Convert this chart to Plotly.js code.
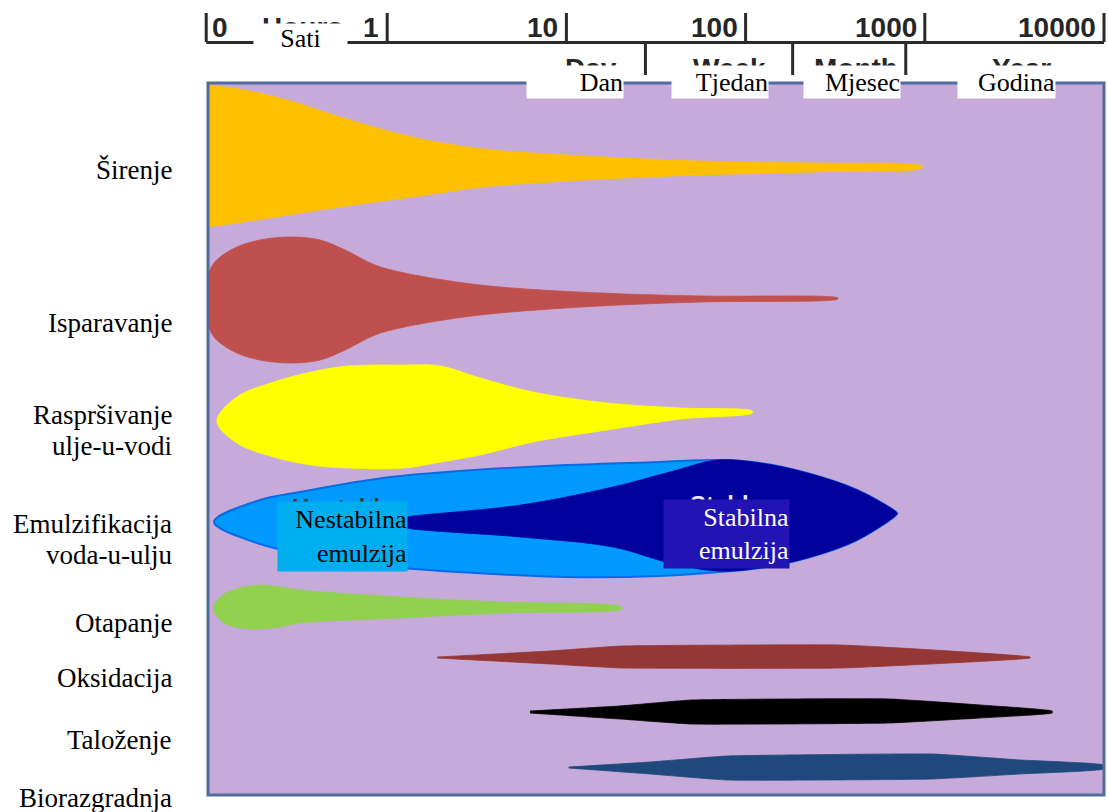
<!DOCTYPE html>
<html><head><meta charset="utf-8">
<script src="https://cdn.plot.ly/plotly-3.0.1.min.js"></script>
<style>html,body{margin:0;padding:0;background:#fff}#chart{width:1108px;height:812px}</style>
</head><body><div id="chart"></div>
<script>
// ---- time axis (hours, log scale) ----
const decadeHours = [0.1, 1, 10, 100, 1000, 10000];
const decadeLabels = ['0', '1', '10', '100', '1000', '10000'];
const periodBoundsHours = [27.6, 183, 783];
const periodNames = ['Sati', 'Dan', 'Tjedan', 'Mjesec', 'Godina'];
const periodLabelHours = [0.33, 11.2, 72, 393, 2840];
const periodNamesEn = ['Hours', 'Day', 'Week', 'Month', 'Year'];
const periodLabelEnHours = [0.335, 13.7, 81.8, 413, 3480];

// ---- process names and label positions (lane units, 0 = top of panel) ----
const processLabels = ['Širenje', 'Isparavanje', 'Raspršivanje<br>ulje-u-vodi', 'Emulzifikacija<br>voda-u-ulju', 'Otapanje', 'Oksidacija', 'Taloženje', 'Biorazgradnja'];
const processLabelLane = [87, 240, 347.5, 456.5, 540, 595, 657, 715];

// ---- band outlines: hours, upper edge, lower edge (lane units) ----
const spreadHours = [0.1, 0.172, 0.302, 0.545, 1.375, 3.43, 8.09, 20.9, 55.7, 238, 964];
const spreadUpper = [2, 8, 19, 34, 54, 66, 71, 75, 78, 80, 83];
const spreadLower = [144, 138, 131, 124, 114, 104, 99, 95, 92, 89, 85];

const evapHours = [0.1, 0.109, 0.141, 0.195, 0.294, 0.422, 0.582, 0.855, 1.18, 2.24, 4.26, 15.4, 55.7, 328];
const evapUpper = [192, 179, 165, 157, 154, 157, 167, 182, 189, 198, 204, 210, 213, 215];
const evapLower = [242, 255, 269, 277, 280, 277, 267, 252, 245, 236, 230, 223, 219, 216];

const dispHours = [0.112, 0.145, 0.233, 0.376, 0.604, 1.24, 1.99, 3.30, 6.52, 16.9, 43.6, 109];
const dispUpper = [338, 314, 299, 289, 283, 282, 283, 295, 309, 320, 325, 328];
const dispLower = [338, 360, 374, 382, 385, 385, 379, 372, 359, 347, 336, 330];

const emulHours = [0.108, 0.195, 0.326, 0.948, 3.09, 10.1, 32.9, 70.2, 120, 220, 419, 700];
const emulUpper = [439, 417, 409, 395, 387, 382, 379, 377, 380, 390, 407, 430];
const emulLower = [439, 461, 470, 483, 490, 494, 493, 489, 485, 475, 457, 431];

const stableHours = [0.912, 1.27, 5.58, 18.2, 37.8, 70.2, 120, 220, 419, 700];
const stableUpper = [439, 434, 422, 404, 389, 377, 380, 390, 407, 430];
const stableLower = [439, 445, 454, 464, 480, 488, 485, 475, 457, 431];

const dissHours = [0.107, 0.121, 0.151, 0.195, 0.252, 0.326, 1.18, 4.26, 20.4];
const dissUpper = [525, 512, 505, 502, 504, 507, 514, 519, 524];
const dissLower = [525, 539, 545, 546, 544, 540, 535, 530, 526];

const oxHours = [1.90, 8.09, 20.4, 340, 1383, 3870];
const oxUpper = [574, 568, 563, 562, 568, 574];
const oxLower = [575, 581, 585, 585, 580, 575];

const sedHours = [6.27, 19.9, 50.2, 631, 2030, 5130];
const sedUpper = [628, 623, 617, 616, 622, 628];
const sedLower = [630, 636, 641, 640, 635, 630];

const bioHours = [10.3, 29.3, 78.7, 1112, 3400, 10000];
const bioUpper = [684, 679, 673, 671, 677, 682];
const bioLower = [685, 691, 697, 696, 691, 686];

// ---- helpers ----
const XR = [-1, 4.0];
const LANES = 712;
const paperX = h => (Math.log10(h) - XR[0]) / (XR[1] - XR[0]);
const paperY = lane => 1 - lane / LANES;
const SERIF = '"Liberation Serif", "Times New Roman", "DejaVu Serif", serif';
const SANS = '"Liberation Sans", Arial, sans-serif';

function band(hours, upper, lower, color, smooth, lineColor, lineWidth) {
  return {
    type: 'scatter', mode: 'lines',
    x: hours.concat(hours.slice().reverse()),
    y: upper.concat(lower.slice().reverse()),
    fill: 'toself', fillcolor: color,
    line: {color: lineColor || color, width: lineWidth || 0.8, shape: smooth ? 'spline' : 'linear', smoothing: 1},
    hoverinfo: 'skip', showlegend: false
  };
}

const traces = [
  band(spreadHours, spreadUpper, spreadLower, '#FFC000', true),
  band(evapHours, evapUpper, evapLower, '#C0504D', true),
  band(dispHours, dispUpper, dispLower, '#FFFF00', true),
  band(emulHours, emulUpper, emulLower, '#0099FF', true, '#0A6BE6', 2),
  band(stableHours, stableUpper, stableLower, '#00009C', true),
  band(dissHours, dissUpper, dissLower, '#92D050', true),
  band(oxHours, oxUpper, oxLower, '#953735', true),
  band(sedHours, sedUpper, sedLower, '#000000', true),
  band(bioHours, bioUpper, bioLower, '#1F497D', true)
];
// bottom three bands are spindle-like: only a light curve
for (let i = 6; i < 9; i++) traces[i].line.smoothing = 0.35;

const AXC = '#2a2a2a';
const shapes = [];
// panel frame
shapes.push({type: 'rect', xref: 'paper', yref: 'paper', x0: 0, x1: 1, y0: 0, y1: 1,
  line: {color: '#4F6C9C', width: 3}, layer: 'above'});
// top time axis
shapes.push({type: 'line', xref: 'paper', yref: 'paper', x0: paperX(decadeHours[0]) - 0.002, x1: paperX(decadeHours[decadeHours.length - 1]),
  y0: paperY(-40.5), y1: paperY(-40.5), line: {color: AXC, width: 3}});
decadeHours.forEach(h => shapes.push({type: 'line', xref: 'paper', yref: 'paper', x0: paperX(h) - (h === 0.1 ? 0.002 : 0), x1: paperX(h) - (h === 0.1 ? 0.002 : 0),
  y0: paperY(-41), y1: paperY(-70), line: {color: AXC, width: 3}}));
periodBoundsHours.forEach(h => shapes.push({type: 'line', xref: 'paper', yref: 'paper', x0: paperX(h), x1: paperX(h),
  y0: paperY(-40), y1: paperY(-8), line: {color: AXC, width: 3}}));

const annotations = [];
const tickFont = {family: SANS, size: 28, color: '#262626'};
decadeHours.forEach((h, i) => annotations.push({
  xref: 'paper', yref: 'paper', x: paperX(h), y: paperY(-56),
  xanchor: i === 0 ? 'left' : 'right', yanchor: 'middle', xshift: i === 0 ? 2 : -6,
  text: '<b>' + decadeLabels[i] + '</b>', showarrow: false, font: tickFont
}));
// English period names (partly hidden)
periodNamesEn.forEach((t, i) => annotations.push({
  xref: 'paper', yref: 'paper', x: paperX(periodLabelEnHours[i]), y: paperY(i === 0 ? -55.5 : -15),
  xanchor: 'center', yanchor: 'middle', text: '<b>' + t + '</b>', showarrow: false, font: tickFont
}));
// Croatian period names in white boxes
const boxW = [93, 96, 96, 96, 97];
periodNames.forEach((t, i) => annotations.push({
  xref: 'paper', yref: 'paper', x: paperX(periodLabelHours[i]), y: paperY(i === 0 ? -45 : -1),
  xanchor: 'center', yanchor: 'middle', text: t, showarrow: false,
  width: boxW[i], height: i === 0 ? 28 : 32, align: i === 0 ? 'center' : 'right',
  bgcolor: '#FFFFFF', borderpad: 0,
  font: {family: SERIF, size: 26, color: '#000'}
}));
// process labels on the left
const labFont = {family: SERIF, size: 27, color: '#000'};
processLabels.forEach((t, i) => {
  const lines = t.split('<br>');
  lines.forEach((ln, k) => annotations.push({
    xref: 'paper', yref: 'paper', x: 0, xshift: -34, xanchor: 'right', yanchor: 'middle',
    y: paperY(processLabelLane[i] + (k - (lines.length - 1) / 2) * 31),
    text: ln, showarrow: false, font: labFont
  }));
});
// emulsion type labels
const emulTypeEn = ['Unstable', 'Stable'];
const emulTypeHr = ['Nestabilna<br>emulzija', 'Stabilna<br>emulzija'];
const emulTypeHours = [0.563, 78.2];
const emulTypeLane = [453.5, 451];
const emulTypeBg = ['#00AEEF', '#2214B4'];
const emulTypeColor = ['#000000', '#FFFFFF'];
const emulTypeEnColor = ['#3a3a3a', '#E8E8F0'];
const emulTypeEnLane = [424, 422];
emulTypeEn.forEach((t, i) => annotations.push({
  xref: 'paper', yref: 'paper', x: paperX(emulTypeHours[i]), y: paperY(emulTypeEnLane[i]),
  xanchor: 'center', yanchor: 'middle', text: '<b>' + t + '</b>', showarrow: false,
  font: {family: SANS, size: 24, color: emulTypeEnColor[i]}
}));
emulTypeHr.forEach((t, i) => annotations.push({
  xref: 'paper', yref: 'paper', x: paperX(emulTypeHours[i]), y: paperY(emulTypeLane[i]),
  xanchor: 'center', yanchor: 'middle', text: t, showarrow: false,
  width: i === 0 ? 129 : 125, height: i === 0 ? 69 : 68, align: 'right', borderpad: 0,
  bgcolor: emulTypeBg[i],
  font: {family: SERIF, size: 26, color: emulTypeColor[i]}
}));

const layout = {
  width: 1108, height: 812,
  margin: {l: 208, r: 4, t: 83, b: 17},
  paper_bgcolor: '#FFFFFF', plot_bgcolor: '#C6AADA',
  font: {family: SERIF},
  xaxis: {type: 'log', range: XR, showgrid: false, zeroline: false, showticklabels: false, ticks: '', showline: false, fixedrange: true},
  yaxis: {range: [LANES, 0], showgrid: false, zeroline: false, showticklabels: false, ticks: '', showline: false, fixedrange: true},
  shapes: shapes, annotations: annotations, showlegend: false
};

Plotly.newPlot('chart', traces, layout, {displayModeBar: false, staticPlot: true});
</script></body></html>
